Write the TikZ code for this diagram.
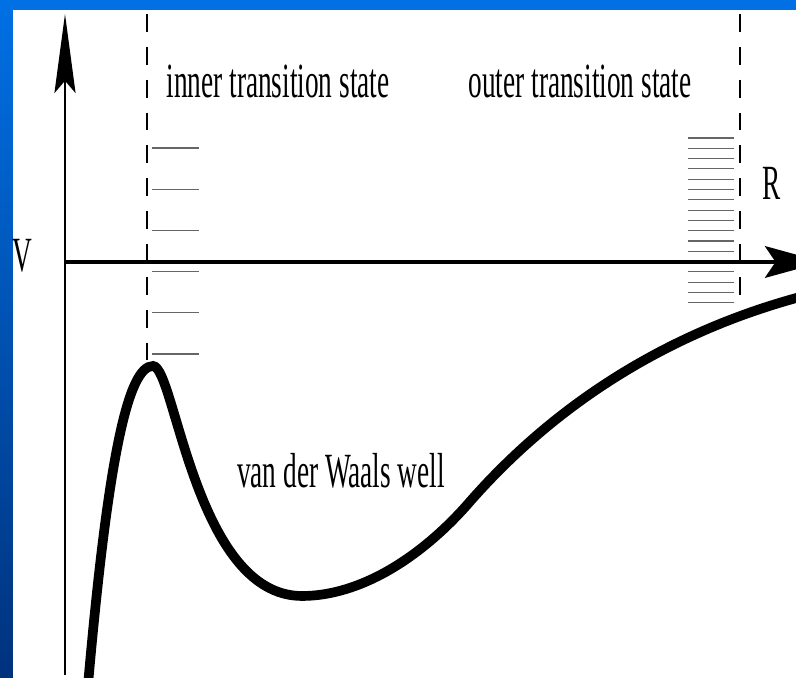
\documentclass[tikz,border=0pt]{standalone}
\usepackage{fontspec}
\usepackage{xcolor}
\usepackage{tikz}
\usetikzlibrary{arrows.meta}
\setmainfont{Liberation Serif}
\newfontfamily\narrowserif[FakeStretch=0.555]{Liberation Serif}
\definecolor{slideblue}{RGB}{0,112,228}
\definecolor{slidedark}{RGB}{0,50,125}

\begin{document}
\begin{tikzpicture}[x=0.02cm, y=0.02cm,
                    lbl/.style={font=\narrowserif\fontsize{28}{34}\selectfont, inner sep=0pt, anchor=base},
                    level/.style={black!60, line width=0.6pt},
                    tsline/.style={line width=1.5pt, dash pattern=on 10.2pt off 8.5pt}]
                    \useasboundingbox (0,0) rectangle (796,678);
                    \clip (0,0) rectangle (796,678);
                    \shade[top color=slideblue, bottom color=slidedark] (0,0) rectangle (13,678);
                    \fill[slideblue] (0,668) rectangle (796,678);
                    \fill[white] (13,0) rectangle (796,668);

                    \coordinate (O) at (65,416);
                    \coordinate (Vbot) at (65,3);
                    \coordinate (Vtop) at (65,664);
                    \coordinate (Rtip) at (823,416);
                    \coordinate (inTop) at (147,664);
                    \coordinate (inBot) at (147,316);
                    \coordinate (outTop) at (740,664);
                    \coordinate (outBot) at (740,382);

                    \foreach \i in {0,...,5}
                        \draw[level] (152,{530-41.2*\i}) -- (199,{530-41.2*\i});
                    \foreach \i in {0,...,16}
                        \draw[level] (688,{540-10.3*\i}) -- (734,{540-10.3*\i});

                    \draw[tsline] (inTop) -- (inBot);
                    \draw[tsline] (outTop) -- (outBot);

                    \draw[line width=1.3pt, -{Stealth[length=45pt, width=12pt, inset=7pt]}] (Vbot) -- (Vtop);
                    \draw[line width=2.3pt, -{Stealth[length=33pt, width=18pt, inset=6pt]}] (O) -- (Rtip);

                    \draw[line width=5.5pt]
                        (88,-7) .. controls (108,220) and (128,312) .. (153,312)
                        .. controls (175,312) and (195,82) .. (302,82)
                        .. controls (360,82) and (420,120) .. (467,173)
                        .. controls (525,240) and (630,335) .. (800,381);

                    \node[lbl] (inner) at (278,580) {inner transition state};
                    \node[lbl] (outer) at (580,580) {outer transition state};
                    \node[lbl] (Rlbl) at (772,478) {R};
                    \node[lbl] (Vlbl) at (22,406) {V};
                    \node[lbl] (well) at (341,190) {van der Waals well};
                \end{tikzpicture}
\end{document}
